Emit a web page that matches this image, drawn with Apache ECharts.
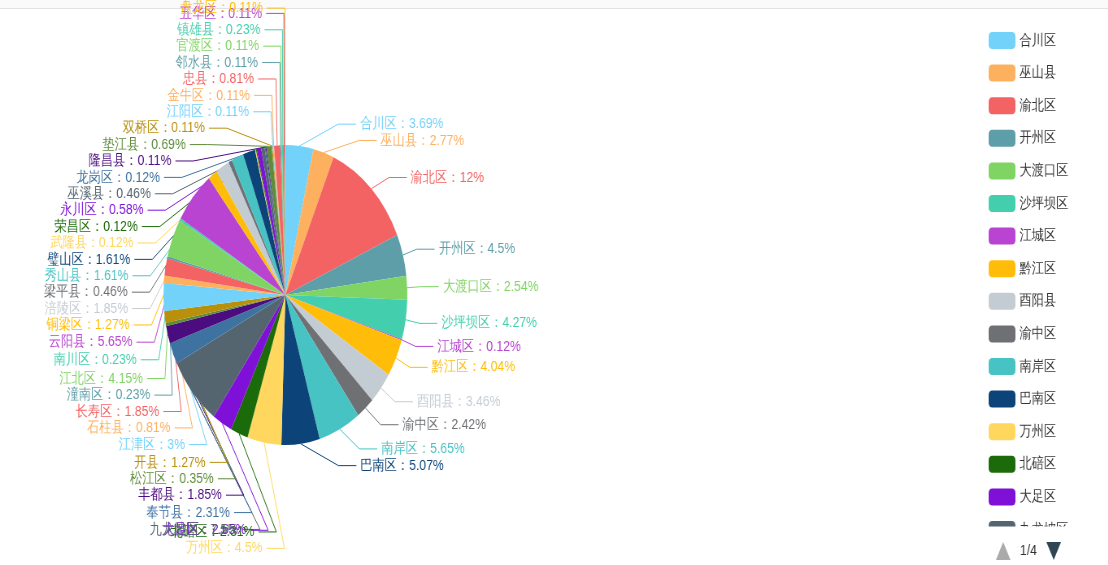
<!DOCTYPE html>
<html>
<head>
<meta charset="utf-8">
<script src="https://cdn.jsdelivr.net/npm/echarts@6/dist/echarts.min.js"></script>
<style>
html,body{margin:0;padding:0;background:#fff;}
#topband{position:absolute;left:0;top:0;width:1108px;height:8px;background:#fafafa;border-bottom:1px solid #e2e2e2;}
#wrap{position:absolute;left:0;top:0;width:1108px;height:565px;overflow:hidden;}
#main{width:1363px;height:565px;transform:scaleX(0.813);transform-origin:0 0;}
</style>
</head>
<body>
<div id="topband"></div>
<div id="wrap"><div id="main"></div></div>
<script>
var categories = ['合川区','巫山县','渝北区','开州区','大渡口区','沙坪坝区','江城区','黔江区','酉阳县','渝中区',
  '南岸区','巴南区','万州区','北碚区','大足区','九龙坡区','奉节县','丰都县','松江区','开县',
  '江津区','石柱县','长寿区','潼南区','江北区','南川区','云阳县','铜梁区','涪陵区','梁平县',
  '秀山县','璧山区','武隆县','荣昌区','永川区','巫溪县','龙岗区','隆昌县','垫江县','双桥区',
  '江阳区','金牛区','忠县','邻水县','官渡区','镇雄县','五华区','盘龙区'];
var percents = [3.69,2.77,12,4.5,2.54,4.27,0.12,4.04,3.46,2.42,
  5.65,5.07,4.5,2.31,2.65,7.5,2.31,1.85,0.35,1.27,
  3,0.81,1.85,0.23,4.15,0.23,5.65,1.27,1.85,0.46,
  1.61,1.61,0.12,0.12,0.58,0.46,0.12,0.11,0.69,0.11,
  0.11,0.11,0.81,0.11,0.11,0.23,0.11,0.11];
var palette = ['#72d2fa','#fdb15f','#f46363','#5e9ea8','#7fd463','#43cfae','#b844d1','#ffbd0a','#c4ccd3','#6e7074',
  '#47c3c3','#0c4479','#ffd75e','#1c6b0a','#7e10d8','#546570','#3e72a0','#4b0c80','#5e8c3c','#b8900c'];

var LINE_LEN = 22, LINE_LEN2 = 22, LABEL_DIST = 5, LABEL_H = 16.4;

var data = categories.map(function (n, i) {
  return {name: n, value: percents[i], label: {color: palette[i % palette.length]}};
});
var el = document.getElementById('main');
var chart = echarts.init(el);
var option = {
  color: palette,
  animation: false,
  legend: {
    type: 'scroll',
    orient: 'vertical',
    left: 1211,
    top: 27,
    bottom: 2,
    itemWidth: 33,
    itemHeight: 17,
    itemGap: 15.6,
    textStyle: {fontSize: 15, color: '#333'},
    pageIconSize: 18,
    pageIconColor: '#2f4554',
    pageIconInactiveColor: '#aaa',
    pageTextStyle: {fontSize: 15, color: '#333'},
    data: categories
  },
  series: [{
    type: 'pie',
    center: [351, 295],
    radius: 150,
    avoidLabelOverlap: false,
    data: data,
    label: {formatter: '{b}：{c}%', fontSize: 15, lineHeight: LABEL_H},
    labelLine: {length: LINE_LEN, length2: LINE_LEN2}
  }]
};
chart.setOption(option);

// Classic (ECharts 4 style) outer-label stacking, based on the slice layout computed by the library
function classicLabelLayout() {
  var sd = chart.getModel().getSeriesByIndex(0).getData();
  var viewH = chart.getHeight(), viewTop = 0;
  var list = [], cx, cy, r;
  for (var i = 0; i < sd.count(); i++) {
    var lay = sd.getItemLayout(i);
    cx = lay.cx; cy = lay.cy; r = lay.r;
    var mid = (lay.startAngle + lay.endAngle) / 2;
    var dx = Math.cos(mid), dy = Math.sin(mid);
    var x1 = cx + r * dx, y1 = cy + r * dy;
    var x2 = x1 + dx * LINE_LEN, y2 = y1 + dy * LINE_LEN;
    var x3 = x2 + (dx < 0 ? -1 : 1) * LINE_LEN2, y3 = y2;
    list.push({idx: i, x: x3 + (dx < 0 ? -LABEL_DIST : LABEL_DIST), y: y3, height: LABEL_H,
      len: LINE_LEN, len2: LINE_LEN2, align: dx < 0 ? 'right' : 'left',
      linePoints: [[x1, y1], [x2, y2], [x3, y3]]});
  }
  function adjustSingleSide(arr, dir) {
    arr.sort(function (a, b) { return a.y - b.y; });
    function shiftDown(start, end, delta) {
      for (var j = start; j < end; j++) {
        if (arr[j].y + delta > viewTop + viewH) break;
        arr[j].y += delta;
        if (j > start && j + 1 < end && arr[j + 1].y > arr[j].y + arr[j].height) {
          shiftUp(j, delta / 2); return;
        }
      }
      shiftUp(end - 1, delta / 2);
    }
    function shiftUp(end, delta) {
      for (var j = end; j >= 0; j--) {
        if (arr[j].y - delta < viewTop) break;
        arr[j].y -= delta;
        if (j > 0 && arr[j].y > arr[j - 1].y + arr[j - 1].height) break;
      }
    }
    function changeX(sub, isDown) {
      var last = isDown ? Number.MAX_VALUE : 0;
      for (var k = 0; k < sub.length; k++) {
        var ddy = Math.abs(sub[k].y - cy);
        var R = r + sub[k].len + sub[k].len2;
        var ddx = ddy < r + sub[k].len ? Math.sqrt(R * R - ddy * ddy) : Math.abs(sub[k].x - cx);
        if (isDown && ddx >= last) ddx = last - 10;
        if (!isDown && ddx <= last) ddx = last + 10;
        sub[k].x = cx + ddx * dir;
        last = ddx;
      }
    }
    var lastY = 0, n = arr.length;
    for (var m = 0; m < n; m++) {
      var delta = arr[m].y - lastY;
      if (delta < 0) shiftDown(m, n, -delta);
      lastY = arr[m].y + arr[m].height;
    }
    if (viewH - lastY < 0) shiftUp(n - 1, lastY - viewH);
    var up = [], down = [];
    for (var q = 0; q < n; q++) (arr[q].y >= cy ? down : up).push(arr[q]);
    changeX(up, false);
    changeX(down, true);
  }
  var left = [], right = [];
  list.forEach(function (it) { (it.x < cx ? left : right).push(it); });
  adjustSingleSide(right, 1);
  adjustSingleSide(left, -1);
  var out = [];
  list.forEach(function (it) {
    var lp = it.linePoints;
    var dist = lp[1][0] - lp[2][0];
    lp[2][0] = it.x < cx ? it.x + LABEL_DIST : it.x - LABEL_DIST;
    lp[1][0] = lp[2][0] + dist;
    lp[1][1] = lp[2][1] = it.y;
    out[it.idx] = it;
  });
  return out;
}
var placed = classicLabelLayout();
chart.setOption({
  series: [{
    labelLayout: function (params) {
      var it = placed[params.dataIndex];
      if (!it) return {};
      return {x: it.x, y: it.y, align: it.align, verticalAlign: 'middle', labelLinePoints: it.linePoints};
    }
  }]
});
</script>
</body>
</html>
